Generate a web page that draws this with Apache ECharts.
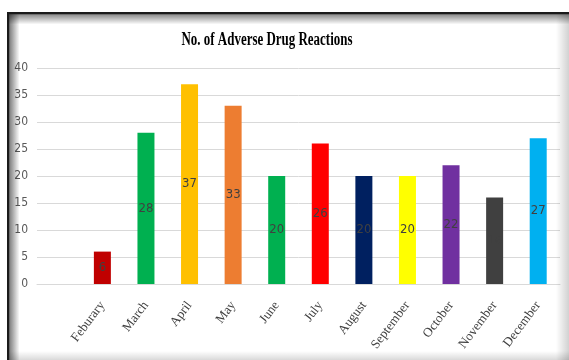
<!DOCTYPE html>
<html>
<head>
<meta charset="utf-8">
<script src="https://cdn.jsdelivr.net/npm/echarts@6/dist/echarts.min.js"></script>
<style>
html,body{margin:0;padding:0;background:#fff;}
#c{width:569px;height:360px;}
</style>
</head>
<body>
<div id="c"></div>
<script>
// Data
var categories = ['', 'Feburary', 'March', 'April', 'May', 'June', 'July', 'August', 'September', 'October', 'November', 'December'];
var values = [null, 6, 28, 37, 33, 20, 26, 20, 20, 22, 16, 27];
var barColors = ['#ffffff', '#C00000', '#00B050', '#FFC000', '#ED7D31', '#00B050', '#FF0000', '#002060', '#FFFF00', '#7030A0', '#404040', '#00B0F0'];
var titleText = 'No. of Adverse Drug Reactions';

// measure title to compress horizontally like the reference
var cv = document.createElement('canvas').getContext('2d');
cv.font = 'bold 18px "Liberation Serif"';
var tw = cv.measureText(titleText).width;
var tScale = 171 / tw;

var chart = echarts.init(document.getElementById('c'), null, {renderer: 'canvas'});
var narrow = "'Liberation Sans Narrow','DejaVu Sans Condensed',sans-serif";

chart.setOption({
  animation: false,
  backgroundColor: '#ffffff',
  grid: {left: 37, right: 9, top: 68, bottom: 76, containLabel: false},
  xAxis: {
    type: 'category',
    data: categories,
    axisLine: {show: true, lineStyle: {color: '#D9D9D9', width: 1}},
    axisTick: {show: false},
    axisLabel: {
      interval: 0,
      rotate: 53,
      margin: 19,
      color: '#404040',
      fontFamily: 'Liberation Serif',
      fontSize: 13
    }
  },
  yAxis: {
    type: 'value',
    min: 0, max: 40, interval: 5,
    axisLine: {show: false},
    axisTick: {show: false},
    splitLine: {lineStyle: {color: '#D9D9D9', width: 1}},
    axisLabel: {color: '#595959', fontFamily: narrow, fontSize: 12, margin: 9}
  },
  series: [{
    type: 'bar',
    data: values.map(function (v, i) {
      return {value: v, itemStyle: {color: barColors[i]}};
    }),
    barWidth: 17,
    label: {
      show: true,
      position: 'inside',
      color: '#404040',
      fontFamily: narrow,
      fontSize: 13
    }
  }],
  graphic: [
    // title
    {type: 'text', z: 100,
     x: 267, y: 40,
     scaleX: tScale,
     style: {text: titleText, x: 0, y: 0, textAlign: 'center', textVerticalAlign: 'middle',
             font: 'bold 18px "Liberation Serif"', fill: '#000'}},
    // frame: top dark line
    {type: 'rect', shape: {x: 7, y: 12, width: 562, height: 2.5}, style: {fill: '#1a1a1a'}, z: 90, silent: true},
    // left dark line
    {type: 'rect', shape: {x: 7, y: 12, width: 2.5, height: 348}, style: {fill: '#1a1a1a'}, z: 90, silent: true},
    // top inner shadow
    {type: 'rect', shape: {x: 9, y: 14.5, width: 560, height: 10},
     style: {fill: new echarts.graphic.LinearGradient(0, 0, 0, 1, [{offset: 0, color: 'rgba(0,0,0,0.45)'}, {offset: 1, color: 'rgba(0,0,0,0)'}])}, z: 89, silent: true},
    // left inner shadow
    {type: 'rect', shape: {x: 9.5, y: 14, width: 10, height: 346},
     style: {fill: new echarts.graphic.LinearGradient(0, 0, 1, 0, [{offset: 0, color: 'rgba(0,0,0,0.5)'}, {offset: 1, color: 'rgba(0,0,0,0)'}])}, z: 89, silent: true},
    // right shading
    {type: 'rect', shape: {x: 556, y: 14, width: 13, height: 346},
     style: {fill: new echarts.graphic.LinearGradient(0, 0, 1, 0, [{offset: 0, color: 'rgba(0,0,0,0)'}, {offset: 1, color: 'rgba(0,0,0,0.18)'}])}, z: 89, silent: true},
    // bottom shading
    {type: 'rect', shape: {x: 9, y: 351, width: 560, height: 9},
     style: {fill: new echarts.graphic.LinearGradient(0, 0, 0, 1, [{offset: 0, color: 'rgba(0,0,0,0)'}, {offset: 1, color: 'rgba(0,0,0,0.15)'}])}, z: 89, silent: true}
  ]
});
</script>
</body>
</html>
